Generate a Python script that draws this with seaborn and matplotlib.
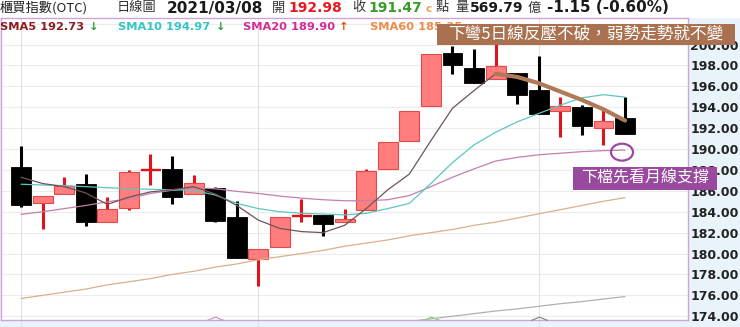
import numpy as np
import matplotlib
matplotlib.use("Agg")
import matplotlib.pyplot as plt
import seaborn as sns
from matplotlib.patches import Rectangle, Ellipse

# ---------------- data ----------------
opens = [188.32, 184.81, 185.67, 186.63, 183.04, 184.33, 188.00, 188.07, 185.67, 186.31,
         183.52, 179.46, 180.58, 183.60, 183.66, 182.98, 184.16, 188.10, 190.79, 194.08,
         199.20, 197.76, 196.74, 197.28, 195.68, 193.64, 194.02, 192.00, 192.98]
highs = [190.31, 185.51, 187.36, 187.62, 185.41, 187.97, 189.57, 189.38, 187.49, 186.40,
         185.03, 180.39, 183.46, 185.22, 183.70, 184.23, 188.10, 190.69, 193.65, 199.14,
         199.84, 199.59, 200.60, 197.28, 198.88, 194.94, 194.20, 193.70, 194.98]
lows = [184.45, 182.31, 185.67, 182.63, 183.04, 184.16, 186.56, 184.74, 185.67, 183.05,
        179.56, 176.94, 180.58, 183.04, 181.67, 182.98, 184.16, 188.10, 190.79, 194.08,
        197.22, 196.32, 196.74, 194.34, 193.38, 191.20, 191.33, 190.40, 191.47]
closes = [184.64, 185.51, 186.50, 182.98, 184.29, 187.84, 188.06, 185.41, 186.78, 183.11,
          179.56, 180.39, 183.46, 183.66, 182.85, 183.30, 187.94, 190.69, 193.60, 199.14,
          198.01, 196.32, 197.92, 195.13, 193.38, 194.15, 192.16, 192.73, 191.47]

sma5 = [187.3, 186.7, 186.4, 185.8, 184.7, 185.4, 185.9, 186.1, 186.4, 185.7,
        184.6, 183.2, 182.4, 182.1, 182.0, 182.7, 184.3, 186.1, 187.6, 190.8,
        193.9, 195.6, 197.2, 196.9, 196.3, 195.5, 194.7, 193.8, 192.73]
sma10 = [186.63, 186.56, 186.5, 186.4, 186.3, 186.2, 186.15, 186.1, 186.05, 185.6,
         184.8, 184.3, 184.0, 183.85, 183.78, 183.7, 183.85, 184.3, 184.8, 186.7,
         188.7, 190.4, 191.6, 192.6, 193.4, 194.2, 194.9, 195.2, 194.97]
sma20 = [183.75, 184.0, 184.3, 184.6, 184.95, 185.25, 185.75, 186.05, 186.3, 186.2,
         185.95, 185.75, 185.5, 185.3, 185.15, 185.05, 185.05, 185.15, 185.55, 186.4,
         187.3, 188.1, 188.85, 189.2, 189.45, 189.6, 189.75, 189.85, 189.90]
sma60 = [175.7, 176.0, 176.3, 176.6, 177.0, 177.3, 177.6, 178.0, 178.3, 178.7,
         179.0, 179.4, 179.7, 180.0, 180.3, 180.7, 181.0, 181.3, 181.7, 182.0,
         182.3, 182.7, 183.0, 183.4, 183.8, 184.2, 184.6, 185.0, 185.35]
sma120 = [np.nan] * 17 + [173.3, 173.5, 173.75, 174.0, 174.25, 174.5, 174.7, 174.95,
                          175.2, 175.4, 175.65, 175.88]

y_ticks = [174, 176, 178, 180, 182, 184, 186, 188, 190, 192, 194, 196, 198, 200]
month_lines = [0, 11, 24]
marker_idx = [9, 19, 24]
marker_colors = ["#c89ac8", "#8fcf8f", "#8c8c8c"]
trend_start = 22  # thick annotation line over SMA5 from this bar on

title_name = "櫃買指數(OTC)"
title_kind = "日線圖"
title_date = "2021/03/08"
volume_txt = "569.79"
change_txt = "-1.15 (-0.60%)"
note_top = "下彎5日線反壓不破，弱勢走勢就不變"
note_bottom = "下檔先看月線支撐"

# ---------------- figure ----------------
sns.set_theme(style="white")
plt.rcParams['font.family'] = ['DejaVu Sans', 'Noto Sans CJK TC']
CJK = ['Noto Sans CJK TC', 'DejaVu Sans']

W, H = 740, 327
fig = plt.figure(figsize=(W / 100, H / 100), dpi=100, facecolor="#e8f4fa")
# white header band
fig.patches.append(Rectangle((0, 1 - 18 / H), 1, 18 / H, transform=fig.transFigure,
                             facecolor="white", edgecolor="none", zorder=-1))
ax = fig.add_axes([1 / W, 7 / H, 687 / W, 302 / H])
ax.set_facecolor("white")

n = len(closes)
idx = np.arange(n)
ax.set_xlim(-0.93, 30.92)
ax.set_ylim(173.64, 202.54)

# grid
for yv in y_ticks + [202]:
    ax.axhline(yv, color="#ececec", lw=0.8, zorder=0)
for xv in month_lines:
    ax.axvline(idx[xv], ymin=-0.024, ymax=1, clip_on=False, color="#e2e2e2", lw=0.8, zorder=0)

# candles
up_fill, up_edge, up_wick = "#ff7d7d", "#e24a4a", "#e0121c"
for i in idx:
    o, c, h, l = opens[i], closes[i], highs[i], lows[i]
    up = c >= o
    wick = up_wick if up else "black"
    ax.vlines(i, l, h, color=wick, lw=2.2, zorder=2)
    bot = min(o, c)
    hgt = abs(c - o)
    if up:
        doji = hgt < 0.15
        ax.bar(i, hgt, bottom=bot, width=0.92, color=(up_wick if doji else up_fill),
               edgecolor=(up_wick if doji else up_edge), linewidth=(1.0 if doji else 0.8),
               zorder=3)
    else:
        ax.bar(i, hgt, bottom=bot, width=0.92, color="black", edgecolor="black",
               linewidth=0.6, zorder=3)

# moving averages
sns.lineplot(x=idx, y=sma60, ax=ax, color="#d9b08e", lw=0.9, zorder=4)
sns.lineplot(x=idx, y=sma120, ax=ax, color="#b0b0b0", lw=0.9, zorder=4)
sns.lineplot(x=idx, y=sma20, ax=ax, color="#c47eae", lw=0.9, zorder=4)
sns.lineplot(x=idx, y=sma10, ax=ax, color="#5ec6bd", lw=0.9, zorder=4)
sns.lineplot(x=idx, y=sma5, ax=ax, color="#6e5458", lw=0.9, zorder=4)
# highlighted SMA5 trend
sns.lineplot(x=idx[trend_start:], y=sma5[trend_start:], ax=ax, color="#b07a58", lw=3.0,
             zorder=5)

# support ellipse around month line end
ax.add_patch(Ellipse((idx[-1] - 0.14, sma20[-1] - 0.2), 1.02, 1.62, facecolor="none",
                     edgecolor="#9a4a9e", lw=1.6, zorder=6))

# bottom chevrons
for k, col in zip(marker_idx, marker_colors):
    ax.plot(idx[k], 173.64, marker=[(-1, 0), (0, 0.4), (1, 0)], markersize=12,
            markerfacecolor="none", markeredgecolor=col, markeredgewidth=0.9,
            clip_on=False, zorder=6)

# axes styling
for s in ax.spines.values():
    s.set_color("#cda6d6")
    s.set_linewidth(1.0)
ax.set_xticks([])
ax.yaxis.tick_right()
ax.set_yticks(y_ticks)
ax.set_yticklabels([f"{v:.2f}" for v in y_ticks], fontsize=9, fontweight="bold",
                   color="#222222")
ax.tick_params(axis="y", length=0, pad=1.5)
ax.set_xlabel("")
ax.set_ylabel("")
if ax.get_legend():
    ax.get_legend().remove()


def ft(x, y, s, **kw):
    return fig.text(x / W, 1 - y / H, s, va="center", ha="left", **kw)


# header row 1
ft(0, 8, title_name, family=CJK, fontsize=9.5, color="#222222")
ft(117, 8, title_kind, family=CJK, fontsize=9.5, color="#333333")
ft(167, 8, title_date, fontsize=11, fontweight="bold", color="#1a1a1a")
ft(272, 8, "開", family=CJK, fontsize=9.5, color="#333333")
ft(288, 8, f"{opens[-1]:.2f}", fontsize=10, fontweight="bold", color="#e8191e")
ft(352, 8, "收", family=CJK, fontsize=9.5, color="#333333")
ft(368, 8, f"{closes[-1]:.2f}", fontsize=10, fontweight="bold", color="#3a9a2a")
ft(426, 9, "c", fontsize=7.5, fontweight="bold", color="#f0a050")
ft(436, 8, "點", family=CJK, fontsize=9.5, color="#333333")
ft(455, 8, "量", family=CJK, fontsize=9.5, color="#333333")
ft(470, 8, volume_txt, fontsize=10, fontweight="bold", color="#1a1a1a")
ft(528, 8, "億", family=CJK, fontsize=9.5, color="#333333")
ft(547, 8, change_txt, fontsize=11, fontweight="bold", color="#1a1a1a")

# header row 2 (SMA values)
sma_fs = 8.2
ft(0, 27, f"SMA5 {sma5[-1]:.2f}", fontsize=sma_fs, fontweight="bold", color="#8b1c22", zorder=4)
ft(89, 27, "↓", fontsize=sma_fs, fontweight="bold", color="#2e9e3e", zorder=4)
ft(118, 27, f"SMA10 {sma10[-1]:.2f}", fontsize=sma_fs, fontweight="bold", color="#33c4c4", zorder=4)
ft(216, 27, "↓", fontsize=sma_fs, fontweight="bold", color="#2e9e3e", zorder=4)
ft(243, 27, f"SMA20 {sma20[-1]:.2f}", fontsize=sma_fs, fontweight="bold", color="#d42a96", zorder=4)
ft(339, 27, "↑", fontsize=sma_fs, fontweight="bold", color="#e84a1a", zorder=4)
ft(370, 27, f"SMA60 {sma60[-1]:.2f}", fontsize=sma_fs, fontweight="bold", color="#f08a4a", zorder=4)

# annotation boxes
fig.patches.append(Rectangle((437 / W, 1 - 45 / H), 298 / W, 21 / H, transform=fig.transFigure,
                             facecolor="#a9714f", edgecolor="none", zorder=5))
fig.text(586 / W, 1 - 34.5 / H, note_top, ha="center", va="center", family=CJK,
         fontsize=12, color="white", zorder=6)
fig.patches.append(Rectangle((573 / W, 1 - 190 / H), 144 / W, 23 / H, transform=fig.transFigure,
                             facecolor="#9a4a9e", edgecolor="none", zorder=5))
fig.text(645 / W, 1 - 178.5 / H, note_bottom, ha="center", va="center", family=CJK,
         fontsize=11.5, color="white", zorder=6)

fig.savefig("out.png", dpi=100, facecolor=fig.get_facecolor())
